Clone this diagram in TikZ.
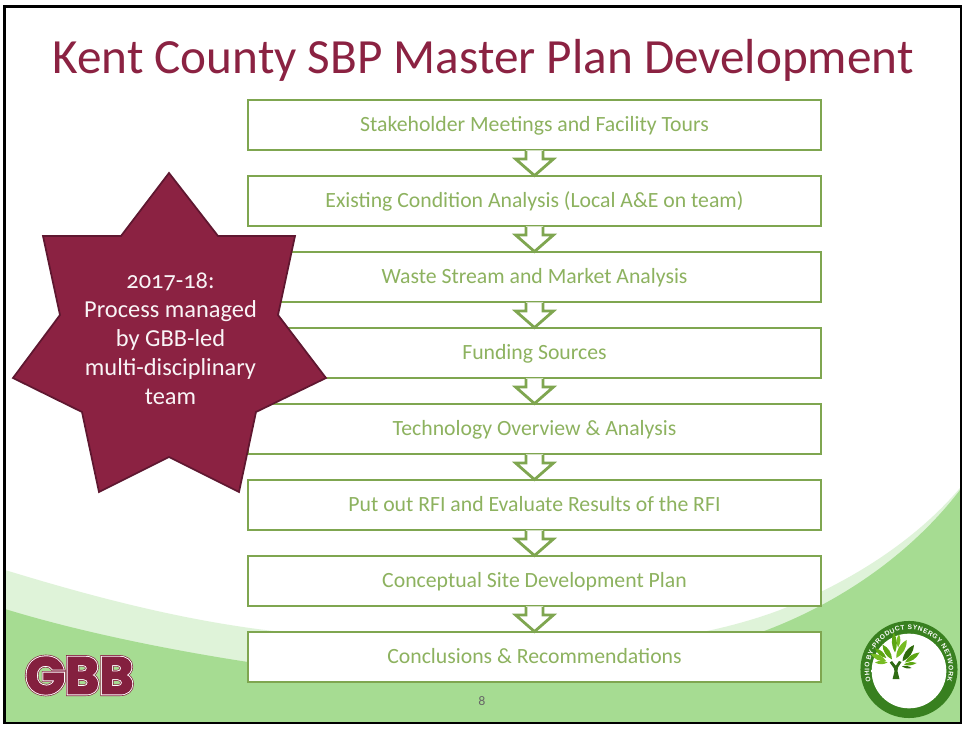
\documentclass[tikz,border=0pt]{standalone}
\usepackage{fontspec}
\usetikzlibrary{calc,decorations.text}
\setmainfont[Numbers=OldStyle]{Carlito}
\newfontfamily\gbbouter[FakeBold=8.5]{Poppins Bold}
\newfontfamily\gbbmid[FakeBold=6]{Poppins Bold}
\newfontfamily\gbbinner[FakeBold=2.5]{Poppins Bold}
\newfontfamily\ringfont{Liberation Sans}
\definecolor{crimson}{HTML}{8B2242}
\definecolor{crimsonline}{HTML}{5F1730}
\definecolor{gbbred}{HTML}{84203F}
\definecolor{boxline}{HTML}{7FA650}
\definecolor{boxtext}{HTML}{8DB25F}
\definecolor{wavedark}{HTML}{A6DC92}
\definecolor{wavelight}{HTML}{DFF3D9}
\definecolor{ringgreen}{HTML}{38801F}
\definecolor{leafa}{HTML}{5CA612}
\definecolor{leafb}{HTML}{77BC22}
\definecolor{leafc}{HTML}{2F6B0C}
\definecolor{trunk}{HTML}{2F6B14}
\pgfdeclareradialshading{ringshadow}{\pgfpointorigin}{color(0bp)=(white);color(37bp)=(white);color(50bp)=(black!55)}
\tikzset{
  stepbox/.style={draw=boxline,fill=white,line width=2.15pt,minimum width=429.75pt,minimum height=37.5pt,inner sep=0pt,text=boxtext,text height=13.5pt,text depth=3pt,font=\fontsize{16.3}{18}\selectfont},
  arrowline/.style={draw=boxline,line width=2.1pt,line join=miter}
}
\newcommand{\flowarrow}[2]{%
  \fill[white] ($(#1.south)+(-8.5,-1)$) -- ++(0,8.5) -- ++(-10.5,0) -- ($(#2.north)+(0,1)$) -- ($(#1.south)+(19,7.5)$) -- ($(#1.south)+(8.5,7.5)$) -- ($(#1.south)+(8.5,-1)$) -- cycle;
  \draw[arrowline] ($(#1.south)+(-8.5,-0.2)$) -- ++(0,7.7) -- ++(-10.5,0) -- ($(#2.north)+(0,1)$) -- ($(#1.south)+(19,7.5)$) -- ($(#1.south)+(8.5,7.5)$) -- ($(#1.south)+(8.5,-0.2)$);
}
\newcommand{\lf}[4][leafa]{\fill[#1] (#2) to[bend left=#4] (#3) to[bend left=#4] (#2) -- cycle;}
\begin{document}
\begin{tikzpicture}[x=.75pt,y=-.75pt]
\useasboundingbox (0,0) rectangle (965,730);
\fill[white] (0,0) rectangle (965,730);
% waves
\fill[wavelight] (5,570) .. controls (90,596) and (180,620) .. (273,631)
  .. controls (350,642) and (430,650) .. (500,650)
  .. controls (600,650) and (700,640) .. (780,610)
  .. controls (860,578) and (920,535) .. (960,488) -- (960,723) -- (5,723) -- cycle;
\fill[wavedark] (5,609) .. controls (80,632) and (170,650) .. (248,662)
  .. controls (330,672) and (420,676) .. (500,676)
  .. controls (600,676) and (700,655) .. (767,630)
  .. controls (840,602) and (910,555) .. (960,490) -- (960,723) -- (5,723) -- cycle;
% frame
\draw[black,line width=2.2pt] (4.5,6.5) rectangle (961,723);
% title
\node[text=crimson,font=\fontsize{36.9}{42}\selectfont,inner sep=0pt] (title) at (483,60) {Kent County SBP Master Plan Development};
% boxes
\node[stepbox] (b1) at (534.5,125) {Stakeholder Meetings and Facility Tours};
\node[stepbox] (b2) at (534.5,201) {Existing Condition Analysis (Local A\&E on team)};
\node[stepbox] (b3) at (534.5,277) {Waste Stream and Market Analysis};
\node[stepbox] (b4) at (534.5,353) {Funding Sources};
\node[stepbox] (b5) at (534.5,429) {Technology Overview \& Analysis};
\node[stepbox] (b6) at (534.5,505) {Put out RFI and Evaluate Results of the RFI};
\node[stepbox] (b7) at (534.5,581) {Conceptual Site Development Plan};
\node[stepbox] (b8) at (534.5,657) {Conclusions \& Recommendations};
\flowarrow{b1}{b2}
\flowarrow{b2}{b3}
\flowarrow{b3}{b4}
\flowarrow{b4}{b5}
\flowarrow{b5}{b6}
\flowarrow{b6}{b7}
\flowarrow{b7}{b8}
% star
\draw[fill=crimson,draw=crimsonline,line width=1.3pt,line join=miter]
  (169,173) -- (121,236) -- (43,236) -- (60,315) -- (13,378) -- (82,412) -- (99,492)
  -- (169,457) -- (239,492) -- (256,412) -- (326,378) -- (278,315) -- (295,236) -- (218,236) -- cycle;
\node[text=white!95!crimson,align=center,font=\fontsize{18.3}{21.75}\selectfont,inner sep=0pt] (star) at (170.5,339)
  {2017-18:\\Process managed\\by GBB-led\\multi-disciplinary\\team};
% page number
\node[text=black!60,font=\fontsize{10.5}{12}\selectfont,inner sep=0pt] (page) at (482,701) {8};
% GBB logo
\node[text=gbbred,font=\gbbouter\fontsize{39}{39}\selectfont,inner sep=0pt] (gbbo) at (79.5,675.5) {GBB};
\node[text=white,font=\gbbmid\fontsize{39}{39}\selectfont,inner sep=0pt] (gbbm) at (79.5,675.5) {GBB};
\node[text=gbbred,font=\gbbinner\fontsize{39}{39}\selectfont,inner sep=0pt] (gbbi) at (79.5,675.5) {GBB};
% OBSN logo
\begin{scope}[shift={(909,669.5)},x=.75pt,y=.75pt]
  \fill[ringgreen] (0,0) circle[radius=36.4pt];
  \shade[shading=ringshadow] (0,-1.5) circle[radius=28pt];
  \fill[white] (0,-2) circle[radius=21pt];
  \path[decorate,decoration={text along path,text align={fit to path},
     text={|\ringfont\bfseries\fontsize{5}{6}\selectfont\color{white}|OHIO BY-PRODUCT SYNERGY NETWORK}}]
     (197:29.8pt) arc[start angle=197,end angle=-17,radius=29.8pt];
\end{scope}
\begin{scope}[shift={(855,615)},x=.1875pt,y=-.1875pt]
  \fill[trunk] (150,257) -- (178,257) -- (170,225) -- (172,210) -- (186,188) -- (176,184) -- (163,203) -- (148,184) -- (139,190) -- (155,212) -- (158,225) -- cycle;
  \lf[leafb]{125,185}{62,155}{30}
  \lf[leafa]{125,172}{80,133}{30}
  \lf[leafb]{130,190}{80,190}{28}
  \lf[leafa]{148,178}{110,118}{30}
  \lf[leafa]{160,150}{155,70}{25}
  \lf[leafb]{172,130}{176,76}{28}
  \lf[leafb]{165,172}{207,100}{30}
  \lf[leafc]{190,185}{236,120}{30}
  \lf[leafa]{200,190}{258,150}{28}
  \lf[leafa]{195,198}{246,192}{25}
  \lf[leafc]{188,205}{226,212}{25}
\end{scope}
\end{tikzpicture}
\end{document}
